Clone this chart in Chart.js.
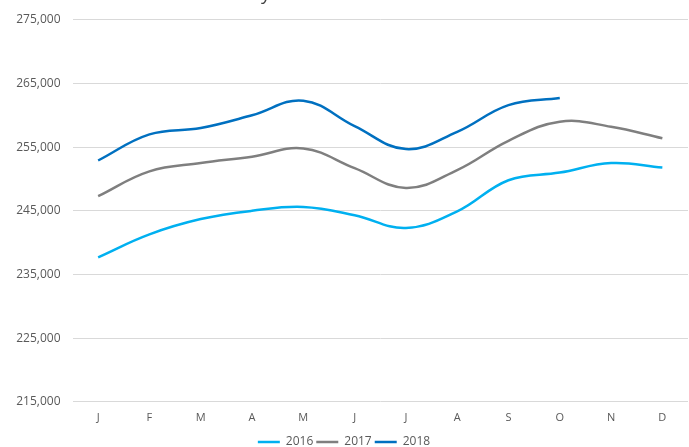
<!DOCTYPE html>
<html>
<head>
<meta charset="utf-8">
<script src="https://cdn.jsdelivr.net/npm/chart.js@4.4.0/dist/chart.umd.min.js"></script>
<style>
  html, body { margin: 0; padding: 0; background: #fff; overflow: hidden; }
  .wrap { position: absolute; left: 0; top: -30px; width: 689px; height: 488px; }
</style>
</head>
<body>
<div class="wrap"><canvas id="salesChart"></canvas></div>
<script>
const months = ["J", "F", "M", "A", "M", "J", "J", "A", "S", "O", "N", "D"];
const sales2016 = [237700, 241300, 243700, 245000, 245600, 244300, 242300, 244900, 249800, 251000, 252500, 251800];
const sales2017 = [247300, 251200, 252500, 253500, 254800, 251700, 248600, 251400, 256000, 259000, 258200, 256400];
const sales2018 = [252900, 257000, 258000, 260000, 262300, 258300, 254700, 257400, 261600, 262700];
const yTicks = [215000, 225000, 235000, 245000, 255000, 265000, 275000];

const tickColor = "#595959";
const gridColor = "#d9d9d9";

function series(label, data, color) {
  return {
    label: label,
    data: data,
    borderColor: color,
    backgroundColor: color,
    borderWidth: 2.5,
    tension: 0.4,
    pointRadius: 0,
    fill: false,
  };
}

const ctx = document.getElementById("salesChart").getContext("2d");

new Chart(ctx, {
  type: "line",
  data: {
    labels: months,
    datasets: [
      series("2016", sales2016, "#00b0f0"),
      series("2017", sales2017, "#7f7f7f"),
      series("2018", sales2018, "#0070c0"),
    ],
  },
  options: {
    responsive: true,
    maintainAspectRatio: false,
    animation: false,
    layout: { padding: { left: 0, right: 1, top: 0, bottom: 0 } },
    plugins: {
      title: {
        display: true,
        text: "Monthly Median Home Sale Price",
        color: "#404040",
        font: { family: "Open Sans", size: 19, weight: "normal" },
        padding: { top: 13.5, bottom: 13.5 },
      },
      legend: {
        position: "bottom",
        labels: {
          color: tickColor,
          font: { family: "Open Sans", size: 12 },
          usePointStyle: true,
          pointStyle: "line",
          pointStyleWidth: 22,
          boxHeight: 8,
          padding: 3,
        },
      },
      tooltip: { enabled: false },
    },
    scales: {
      x: {
        offset: true,
        grid: { display: false, drawTicks: false },
        border: { display: false },
        ticks: {
          color: tickColor,
          font: { family: "Open Sans", size: 11 },
          padding: 9,
          maxRotation: 0,
        },
      },
      y: {
        min: 215000,
        max: 275000,
        afterFit: (scale) => { scale.width = 72.5; },
        afterBuildTicks: (scale) => {
          scale.ticks = yTicks.map((v) => ({ value: v }));
        },
        grid: { color: gridColor, lineWidth: 1, drawTicks: false },
        border: { display: false },
        ticks: {
          color: tickColor,
          font: { family: "Open Sans", size: 12 },
          padding: 12,
          callback: (v) => v.toLocaleString("en-US"),
        },
      },
    },
  },
});
</script>
</body>
</html>
